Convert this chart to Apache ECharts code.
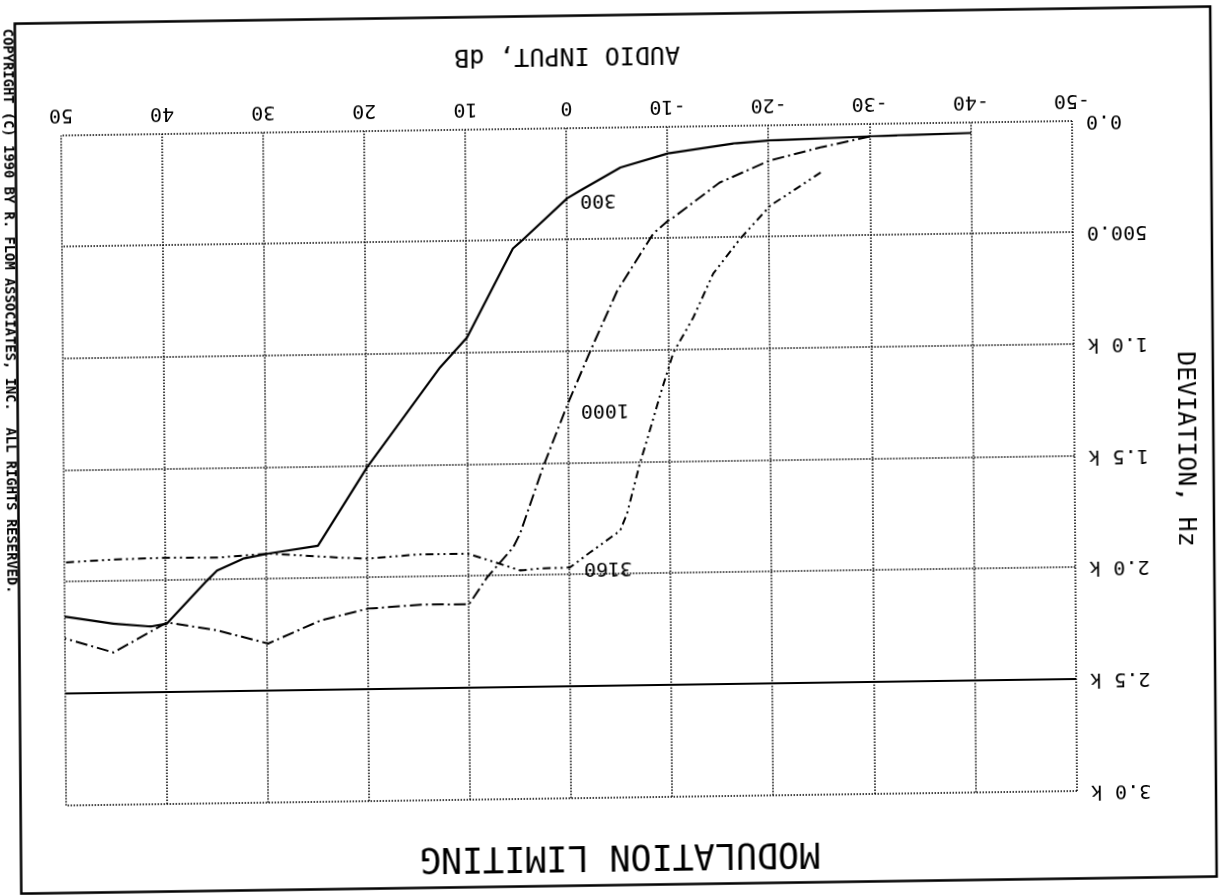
<!DOCTYPE html>
<html>
<head>
<meta charset="utf-8">
<script src="https://cdn.jsdelivr.net/npm/echarts@6.0.0/dist/echarts.min.js"></script>
<style>
  html, body { margin: 0; padding: 0; background: #fff; overflow: hidden; width: 1220px; height: 895px; }
  #chart {
    position: absolute; left: 0; top: 0; width: 1220px; height: 895px; background: #fff;
    transform-origin: 0 0;
    transform: matrix(-1, 0.01434, -0.00746, -1, 1220.78, 892.95);
  }
</style>
</head>
<body>
<div id="chart"></div>
<script>
// ---- data ----
var xTickLabels = {'-50':'-50','-40':'-40','-30':'-30','-20':'-20','-10':'-10','0':'0','10':'10','20':'20','30':'30','40':'40','50':'50'};
var yTickLabels = ['0.0', '500.0', '1.0 k', '1.5 k', '2.0 k', '2.5 k', '3.0 k'];

var curve300Db = [-40, -32.7, -30, -20, -16.5, -10, -5.3, -1.3, 0, 4.7, 5.4, 10, 12.7, 20, 24.9, 29.8, 32.3, 34.9, 35.9, 39.9, 41.5, 45.2, 50];
var curve300Hz = [47, 53, 56, 68, 79, 119, 179, 280, 314, 508, 535, 930, 1063, 1506, 1853, 1885, 1906, 1958, 2002, 2192, 2204, 2189, 2154];

var curve1000Db = [-30, -25.1, -20.1, -15.1, -10.5, -10, -8.5, -4.9, -2.2, 0.15, 2.6, 4.9, 5.6, 8.2, 10, 14.5, 20, 24.7, 29.9, 34.9, 39.9, 45.2, 50];
var curve1000Hz = [56, 102, 157, 253, 406, 419, 477, 730, 997, 1241, 1518, 1812, 1874, 2006, 2125, 2123, 2138, 2188, 2288, 2226, 2187, 2318, 2252];

var curve3160Db = [-25.1, -22.1, -20.1, -17.1, -14.4, -12.4, -10.4, -9.1, -7.8, -7.0, -5.7, -5.0, -2.0, 0, 2.9, 4.9, 7.9, 10.1, 15.1, 20, 22.7, 29.8, 34.9, 39.8, 45.2, 50];
var curve3160Hz = [214, 302, 359, 505, 660, 855, 1011, 1194, 1390, 1506, 1729, 1805, 1901, 1967, 1969, 1977, 1931, 1898, 1899, 1914, 1908, 1885, 1900, 1897, 1902, 1912];

var limitHz = 2500;

var seriesNames = ['300', '1000', '3160'];
var labelDb = [-3.06, -3.59, -3.78];
var labelHz = [323, 1264, 1971];

var titleText = 'MODULATION LIMITING';
var xName = 'AUDIO INPUT, dB';
var yName = 'DEVIATION, Hz';
var copyrightText = 'COPYRIGHT (C) 1990 BY R. FLOM ASSOCIATES, INC.  ALL RIGHTS RESERVED.';

// ---- chart ----
function pairs(xs, ys) { return xs.map(function (x, i) { return [x, ys[i]]; }); }
var mono = '"DejaVu Sans Mono", "Liberation Mono", monospace';

function labelPoint(i) {
  return {
    symbol: 'circle', symbolSize: 0, silent: true,
    data: [{ coord: [labelDb[i], labelHz[i]], value: seriesNames[i] }],
    label: { show: true, position: 'inside', formatter: seriesNames[i], color: '#000', fontFamily: mono, fontSize: 20 }
  };
}

var gridLine = { color: '#000', width: 1.5, type: [1.5, 1.5] };

var chart = echarts.init(document.getElementById('chart'), null, { renderer: 'canvas' });
chart.setOption({
  animation: false,
  backgroundColor: '#fff',
  grid: { left: 143, top: 104, width: 1011, height: 670, containLabel: false },
  xAxis: {
    type: 'value', min: -50, max: 50, interval: 10,
    axisLine: { show: false }, axisTick: { show: false },
    axisLabel: { color: '#000', fontFamily: mono, fontSize: 20, margin: 11,
      formatter: function (v) { return xTickLabels[String(v)]; } },
    splitLine: { show: true, showMinLine: true, showMaxLine: true, lineStyle: gridLine }
  },
  yAxis: {
    type: 'value', min: 0, max: 3000, interval: 500,
    axisLine: { show: false }, axisTick: { show: false },
    axisLabel: { color: '#000', fontFamily: mono, fontSize: 20, margin: 14,
      formatter: function (v) { return yTickLabels[Math.round(v / 500)]; } },
    splitLine: { show: true, showMinLine: true, showMaxLine: true, lineStyle: gridLine }
  },
  graphic: [
    { type: 'rect', silent: true, shape: { x: 4, y: 16.5, width: 1195.5, height: 870 },
      style: { fill: 'none', stroke: '#000', lineWidth: 2.5 } },
    { type: 'text', silent: true, x: 600.5, y: 46.6,
      style: { text: titleText, fill: '#000', font: '35px ' + mono, align: 'center', verticalAlign: 'middle' } },
    { type: 'text', silent: true, x: 647.5, y: 847.3,
      style: { text: xName, fill: '#000', font: '25px ' + mono, align: 'center', verticalAlign: 'middle' } },
    { type: 'text', silent: true, x: 32.5, y: 444.5, rotation: Math.PI / 2,
      style: { text: yName, fill: '#000', font: '25px ' + mono, align: 'center', verticalAlign: 'middle' } },
    { type: 'text', silent: true, x: 1207, y: 599, rotation: Math.PI / 2,
      style: { text: copyrightText, fill: '#000', font: 'bold 13.8px ' + mono, align: 'center', verticalAlign: 'middle' } }
  ],
  series: [
    { name: seriesNames[0], type: 'line', data: pairs(curve300Db, curve300Hz), showSymbol: false, symbol: 'none',
      lineStyle: { color: '#000', width: 2.2, type: 'solid' },
      markPoint: labelPoint(0),
      markLine: { silent: true, symbol: 'none', label: { show: false },
        lineStyle: { color: '#000', width: 2.2, type: 'solid' },
        data: [{ yAxis: limitHz }] } },
    { name: seriesNames[1], type: 'line', data: pairs(curve1000Db, curve1000Hz), showSymbol: false, symbol: 'none',
      lineStyle: { color: '#000', width: 2, type: [12, 4, 2, 4] },
      markPoint: labelPoint(1) },
    { name: seriesNames[2], type: 'line', data: pairs(curve3160Db, curve3160Hz), showSymbol: false, symbol: 'none',
      lineStyle: { color: '#000', width: 2, type: [8, 4, 2, 4, 2, 4] },
      markPoint: labelPoint(2) }
  ]
});
</script>
</body>
</html>
